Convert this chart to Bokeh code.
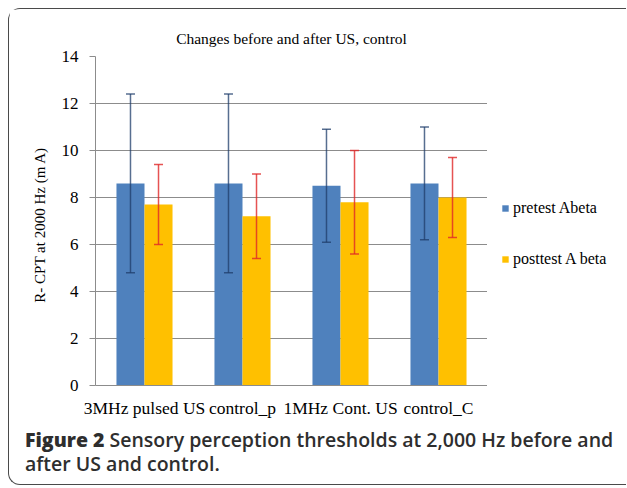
from bokeh.plotting import figure
from bokeh.models import (FactorRange, Range1d, ColumnDataSource, Whisker, TeeHead,
                          Legend, LegendItem, Div, FixedTicker)
from bokeh.transform import dodge
from bokeh.layouts import column, row
from bokeh.embed import file_html
from bokeh.resources import INLINE

# ---- data ----
categories = ["3MHz pulsed US", "control_p", "1MHz Cont. US", "control_C"]
pre_mean = [8.6, 8.6, 8.5, 8.6]
pre_sd = [3.8, 3.8, 2.4, 2.4]
post_mean = [7.7, 7.2, 7.8, 8.0]
post_sd = [1.7, 1.8, 2.2, 1.7]
series_names = ["pretest Abeta", "posttest A beta"]
y_ticks = [0, 2, 4, 6, 8, 10, 12, 14]
title_text = "Changes before and after US, control"
y_label = "R- CPT  at 2000 Hz  (m A)"
caption_bold = "Figure 2"
caption_text = "Sensory perception thresholds at 2,000 Hz before and after US and control."

BLUE = "#4F81BD"
YELLOW = "#FFC000"
SERIF = "Liberation Serif"

src = ColumnDataSource(dict(
    cat=categories,
    pre=pre_mean,
    post=post_mean,
    pre_up=[m + s for m, s in zip(pre_mean, pre_sd)],
    pre_lo=[m - s for m, s in zip(pre_mean, pre_sd)],
    post_up=[m + s for m, s in zip(post_mean, post_sd)],
    post_lo=[m - s for m, s in zip(post_mean, post_sd)],
))

p = figure(x_range=FactorRange(*categories), y_range=Range1d(0, 14),
           frame_width=392, frame_height=329,
           min_border_left=86, min_border_right=0,
           min_border_top=47, min_border_bottom=41,
           output_backend="svg", toolbar_location=None)
p.outline_line_color = None
p.background_fill_color = "white"
p.border_fill_color = "white"

off = 0.143
bw = 0.286
r1 = p.vbar(x=dodge("cat", -off, range=p.x_range), top="pre", width=bw,
            source=src, fill_color=BLUE, line_color=None)
r2 = p.vbar(x=dodge("cat", off, range=p.x_range), top="post", width=bw,
            source=src, fill_color=YELLOW, line_color=None)

ERR_BLUE = "#1F3D6B"
ERR_RED = "#E02828"
def whisker(base, up, lo, color, alpha):
    return Whisker(base=base, upper=up, lower=lo, source=src, level="overlay",
                   line_color=color, line_width=1.5, line_alpha=alpha,
                   upper_head=TeeHead(size=9, line_color=color, line_width=1.5, line_alpha=alpha),
                   lower_head=TeeHead(size=9, line_color=color, line_width=1.5, line_alpha=alpha))

p.add_layout(whisker(dodge("cat", -off, range=p.x_range), "pre_up", "pre_lo", ERR_BLUE, 0.75))
p.add_layout(whisker(dodge("cat", off, range=p.x_range), "post_up", "post_lo", ERR_RED, 0.8))

GRID = "#8C8C8C"
p.xgrid.grid_line_color = None
p.ygrid.grid_line_color = GRID
p.ygrid.grid_line_width = 1.2
p.yaxis.ticker = FixedTicker(ticks=y_ticks)
p.yaxis.minor_tick_line_color = None
p.yaxis.major_tick_out = 6
p.yaxis.major_tick_in = 0
p.yaxis.major_tick_line_color = GRID
p.yaxis.axis_line_color = GRID
p.yaxis.major_label_text_font = SERIF
p.yaxis.major_label_text_font_size = "17px"
p.yaxis.major_label_text_color = "black"
p.yaxis.major_label_standoff = 11
p.yaxis.axis_label = y_label
p.yaxis.axis_label_text_font = SERIF
p.yaxis.axis_label_text_font_size = "15px"
p.yaxis.axis_label_text_font_style = "normal"
p.yaxis.axis_label_text_color = "black"
p.yaxis.axis_label_standoff = 11

p.xaxis.major_tick_line_color = None
p.xaxis.minor_tick_line_color = None
p.xaxis.axis_line_color = GRID
p.xaxis.axis_line_width = 1.2
p.xaxis.major_label_text_font = SERIF
p.xaxis.major_label_text_font_size = "17.5px"
p.xaxis.major_label_text_color = "black"
p.xaxis.major_label_standoff = 6

p.title.text = title_text
p.title.align = "center"
p.title.text_font = SERIF
p.title.text_font_size = "15.5px"
p.title.text_font_style = "normal"
p.title.text_color = "black"
p.title.standoff = 19

# legend panel (separate small figure so the legend sits right of the plot area);
# its two renderers use the same data but fall outside this panel's ranges
p2 = figure(width=139, height=417, x_range=Range1d(0, 1), y_range=Range1d(0, 1),
            x_axis_type=None, y_axis_type=None, min_border=0,
            output_backend="svg", toolbar_location=None)
p2.outline_line_color = None
p2.grid.visible = False
p2.background_fill_color = "white"
p2.border_fill_color = "white"
l1 = p2.vbar(x="pre", top="pre", width=0.1, source=src, fill_color=BLUE, line_color=None)
l2 = p2.vbar(x="post", top="post", width=0.1, source=src, fill_color=YELLOW, line_color=None)
legend = Legend(items=[LegendItem(label=series_names[0], renderers=[l1], index=0),
                       LegendItem(label=series_names[1], renderers=[l2], index=0)],
                location=(14, 117), glyph_width=8, glyph_height=8,
                label_text_font=SERIF, label_text_font_size="16px",
                label_text_color="black", spacing=33, label_standoff=4,
                border_line_color=None, background_fill_alpha=0,
                margin=0, padding=10)
p2.add_layout(legend)

caption = Div(
    text=f'<span style="font-weight:800">{caption_bold}</span> {caption_text}',
    width=616,
    styles={"font-family": "'Open Sans'", "font-size": "19.5px", "line-height": "24px",
            "font-weight": "600", "color": "#2E2E2E", "padding-left": "16px",
            "padding-top": "2px", "padding-bottom": "8px"},
    margin=(0, 0, 0, 0))

layout = column(row(p, p2), caption, margin=(8, 0, 0, 8),
                styles={"border": "1px solid #4A4A4A", "border-right": "none",
                        "border-radius": "12px 0 0 12px", "background": "white"})

with open("out.html", "w") as f:
    f.write(file_html(layout, INLINE))
